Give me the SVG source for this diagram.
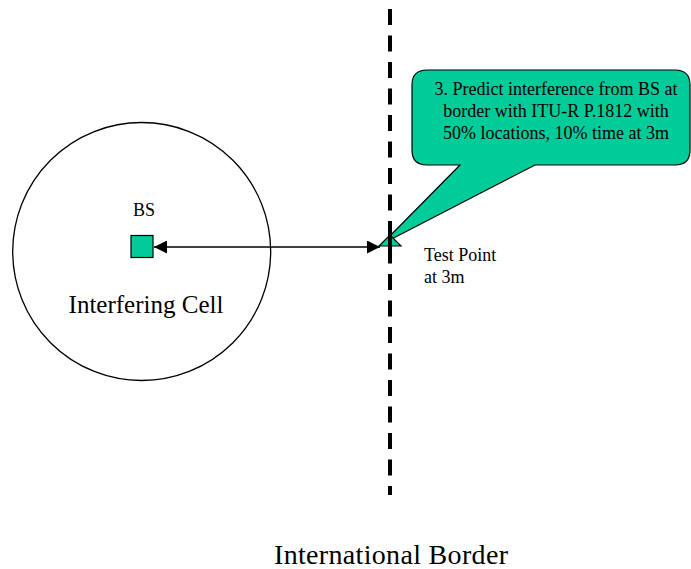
<svg xmlns="http://www.w3.org/2000/svg" width="691" height="569" viewBox="0 0 691 569">
  <style>
    .txt { font-family: "Liberation Serif", "Times New Roman", serif; fill: #000; }
    .small { font-size: 18px; }
    .green { fill: #00CC99; stroke: #000; stroke-width: 1.2; }
    .conn { stroke: #000; stroke-width: 1.3; fill: none; }
  </style>
  <defs>
    <marker id="arrowhead" viewBox="0 0 13 13" refX="13" refY="6.5" markerWidth="13" markerHeight="13" markerUnits="userSpaceOnUse" orient="auto-start-reverse">
      <path d="M0,0 L13,6.5 L0,13 Z" fill="#000"/>
    </marker>
  </defs>

  <!-- interfering cell -->
  <g id="cell">
    <circle cx="141.7" cy="251.5" r="129" fill="none" stroke="#000" stroke-width="1.3"/>
    <text class="txt" x="146" y="313" font-size="25" text-anchor="middle">Interfering Cell</text>
  </g>

  <!-- base station -->
  <g id="bs">
    <rect class="green" x="131" y="235.5" width="22" height="22"/>
    <text class="txt small" x="144" y="216" text-anchor="middle">BS</text>
  </g>

  <!-- callout -->
  <g id="callout">
    <path class="green" d="M427,70 H675 Q690,70 690,85 V150 Q690,165 675,165 H535 L382,244 L460,165 H427 Q412,165 412,150 V85 Q412,70 427,70 Z"/>
    <text class="txt small" x="556" y="95" text-anchor="middle">3. Predict interference from BS at</text>
    <text class="txt small" x="556" y="117" text-anchor="middle">border with ITU-R P.1812 with</text>
    <text class="txt small" x="556" y="139" text-anchor="middle">50% locations, 10% time at 3m</text>
  </g>

  <!-- test point on the border -->
  <g id="test-point">
    <polygon class="green" points="379,246 401,246 390,235"/>
    <text class="txt small" x="424" y="261">Test Point</text>
    <text class="txt small" x="424" y="283">at 3m</text>
  </g>

  <!-- international border -->
  <g id="border">
    <line x1="390" y1="9" x2="390" y2="495" stroke="#000" stroke-width="4" stroke-dasharray="16 10.5"/>
    <line x1="390" y1="236" x2="390" y2="248" stroke="#000" stroke-width="4"/>
    <text class="txt" x="274" y="564" font-size="28" textLength="234" lengthAdjust="spacing">International Border</text>
  </g>

  <!-- connectors -->
  <g id="connectors">
    <line class="conn" x1="154" y1="247" x2="380" y2="247" marker-start="url(#arrowhead)" marker-end="url(#arrowhead)"/>
  </g>
</svg>
